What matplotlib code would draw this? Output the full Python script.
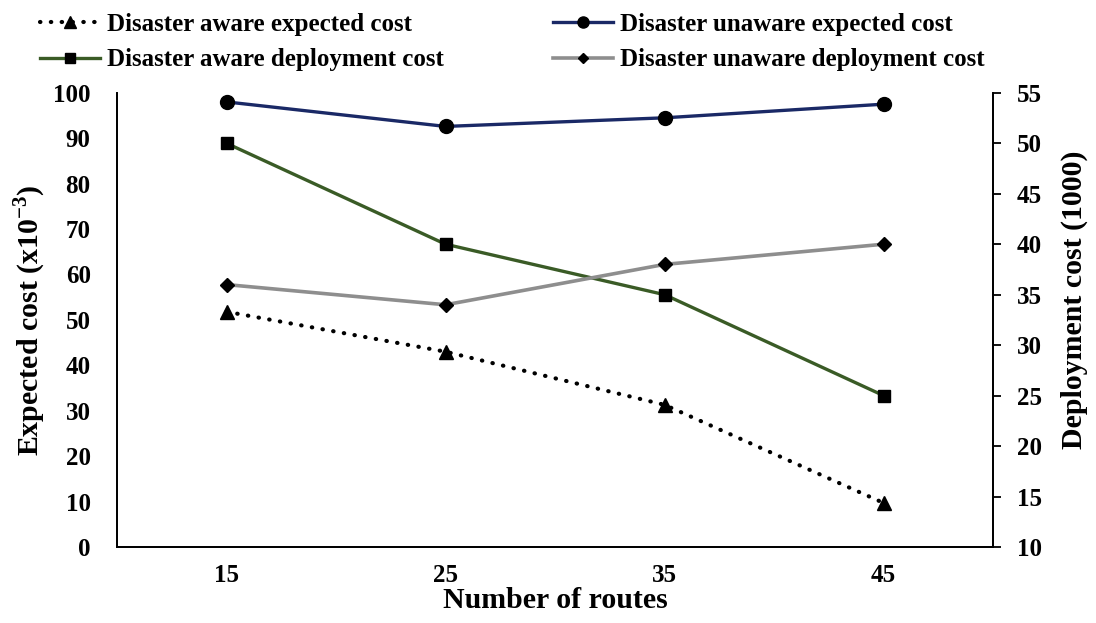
import matplotlib
matplotlib.use('Agg')
import matplotlib.pyplot as plt

plt.rcParams['font.family'] = ['Liberation Serif', 'DejaVu Serif']
plt.rcParams['font.weight'] = 'bold'
plt.rcParams['mathtext.fontset'] = 'custom'
plt.rcParams['mathtext.rm'] = 'Liberation Serif'
plt.rcParams['mathtext.bf'] = 'Liberation Serif:bold'

routes = [15, 25, 35, 45]
aware_expected = [51.8, 43.0, 31.3, 9.7]
unaware_expected = [98.0, 92.6, 94.5, 97.5]
aware_deploy = [50, 40, 35, 25]
unaware_deploy = [36, 34, 38, 40]

fig = plt.figure(figsize=(10.96, 6.23), dpi=100)
ax = fig.add_axes([0.1068, 0.122, 0.7993, 0.729])
ax2 = ax.twinx()

l1, = ax.plot(routes, aware_expected, color='black', lw=3.0,
              linestyle=(0, (0.1, 2.5)), dash_capstyle='round',
              marker='^', markersize=10, label='Disaster aware expected cost')
l2, = ax.plot(routes, unaware_expected, color='#1a2966', lw=2.4,
              marker='o', markersize=10, markerfacecolor='black',
              markeredgecolor='black', label='Disaster unaware expected cost')
l3, = ax2.plot(routes, aware_deploy, color='#3a5b26', lw=2.4,
               marker='s', markersize=9, markerfacecolor='black',
               markeredgecolor='black', label='Disaster aware deployment cost')
l4, = ax2.plot(routes, unaware_deploy, color='#8e8e8e', lw=2.6,
               marker='D', markersize=7, markerfacecolor='black',
               markeredgecolor='black', label='Disaster unaware deployment cost')

ax.set_xlim(10, 50)
ax.set_ylim(0, 100)
ax.set_yticks(range(0, 101, 10))
ax.set_xticks(routes)
ax2.set_ylim(10, 55)
ax2.set_yticks(range(10, 56, 5))

for a in (ax, ax2):
    a.spines['top'].set_visible(False)
    for s in a.spines.values():
        s.set_linewidth(1.3)

ax.tick_params(axis='y', length=0, pad=19, labelsize=18)
ax.tick_params(axis='x', length=0, pad=12, labelsize=18)
ax2.tick_params(axis='y', direction='out', length=6, width=1.3, pad=11, labelsize=18)

ax.set_xlabel('Number of routes', fontsize=21.5, fontweight='bold', labelpad=0)
ax.set_ylabel(r'Expected cost (x10$^{\mathbf{-3}}$)', fontsize=21.5,
              fontweight='bold', labelpad=4)
ax2.set_ylabel('Deployment cost (1000)', fontsize=21.5, fontweight='bold')
ax2.yaxis.set_label_coords(1.077, 0.545)

# two legend columns placed separately above the plot
leg_kw = dict(loc='upper left', frameon=False, fontsize=18, handlelength=2.4,
              handletextpad=0.3, labelspacing=0.49, borderpad=0,
              borderaxespad=0, markerscale=0.8)
leg1 = fig.legend(handles=[l1, l3], bbox_to_anchor=(40 / 1096, 0.979), **leg_kw)
leg2 = fig.legend(handles=[l2, l4], bbox_to_anchor=(553 / 1096, 0.979), **leg_kw)

fig.savefig('out.png', dpi=100)
